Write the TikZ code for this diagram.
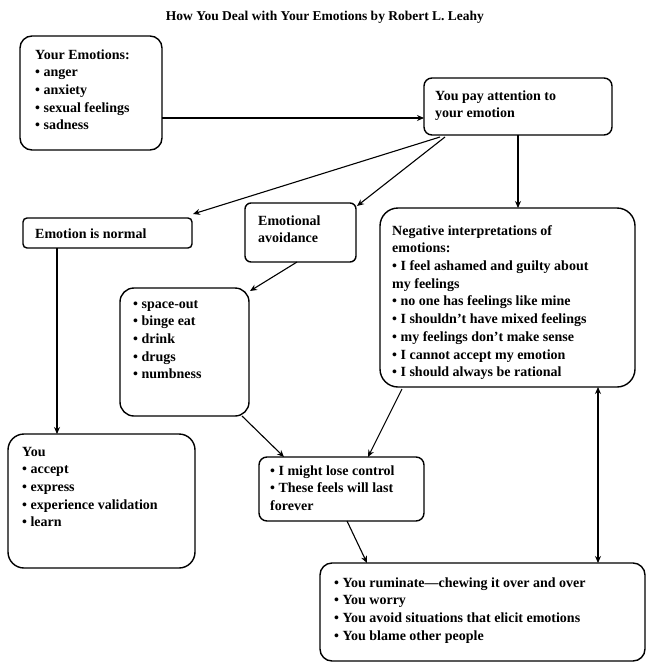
\documentclass[tikz,border=0pt]{standalone}
\usepackage{fontspec}
\setmainfont{Liberation Serif}
\usetikzlibrary{calc,arrows.meta}
\tikzset{
  box/.style={draw, line width=1.4pt, anchor=north west, inner sep=0pt, outer sep=0pt},
  txt/.style={anchor=north west, inner sep=0pt, align=left,
    font=\fontsize{14}{17.7}\selectfont\bfseries},
  arr/.style={line width=1.1pt, -{Stealth[length=7pt,width=6pt]}},
  darr/.style={line width=1.1pt, {Stealth[length=7pt,width=6pt]}-{Stealth[length=7pt,width=6pt]}}
}
\begin{document}
\begin{tikzpicture}[x=1pt,y=-1pt]
\useasboundingbox (0,0) rectangle (650,670);
\node[anchor=center, font=\fontsize{13.5}{16}\selectfont\bfseries] (title) at (325,17) {How You Deal with Your Emotions by Robert L. Leahy};

\node[box, rounded corners=12pt, minimum width=142pt, minimum height=114pt] (b1) at (20,36) {};
\node[box, rounded corners=8pt, minimum width=188pt, minimum height=57pt] (b2) at (424,78) {};
\node[box, rounded corners=4pt, minimum width=169pt, minimum height=30pt] (b3) at (23,218) {};
\node[box, rounded corners=6pt, minimum width=111pt, minimum height=59pt] (b4) at (245,203) {};
\node[box, rounded corners=18pt, minimum width=255pt, minimum height=179pt] (b5) at (380,208) {};
\node[box, rounded corners=14pt, minimum width=129pt, minimum height=128pt] (b6) at (120,288) {};
\node[box, rounded corners=16pt, minimum width=187pt, minimum height=134pt] (b7) at (8,434) {};
\node[box, rounded corners=8pt, minimum width=165pt, minimum height=64pt] (b8) at (259,457) {};
\node[box, rounded corners=12pt, minimum width=325pt, minimum height=98pt] (b9) at (320,563) {};

\node[txt] (t1) at (35,46.6) {\strut Your Emotions:\\• anger\\• anxiety\\• sexual feelings\\• sadness};
\node[txt] (t2) at (435,87.6) {\strut You pay attention to\\your emotion};
\node[txt] (t3) at (35,225.6) {\strut Emotion is normal};
\node[txt] (t4) at (258,212.6) {\strut Emotional\\avoidance};
\node[txt] (t5) at (392,222.6) {\strut Negative interpretations of\\emotions:\\• I feel ashamed and guilty about\\my feelings\\• no one has feelings like mine\\• I shouldn’t have mixed feelings\\• my feelings don’t make sense\\• I cannot accept my emotion\\• I should always be rational};
\node[txt] (t6) at (133,295.6) {\strut • space-out\\• binge eat\\• drink\\• drugs\\• numbness};
\node[txt] (t7) at (22,443.6) {\strut You\\• accept\\• express\\• experience validation\\• learn};
\node[txt] (t8) at (270,462.6) {\strut • I might lose control\\• These feels will last\\forever};
\node[txt] (t9) at (334,574.6) {\strut • You ruminate—chewing it over and over\\• You worry\\• You avoid situations that elicit emotions\\• You blame other people};

\draw[arr] ($(b1.north west)+(142,82)$) -- ($(b2.north west)+(0,40)$);
\draw[arr] ($(b2.north west)+(16,59)$) -- ($(b3.north west)+(170,-4)$);
\draw[arr] ($(b2.north west)+(21,59)$) -- ($(b4.north west)+(112,3)$);
\draw[arr] ($(b2.north west)+(94,57)$) -- ($(b5.north west)+(138,0)$);
\draw[arr] ($(b4.north west)+(52,59)$) -- ($(b6.north west)+(130,3)$);
\draw[arr] ($(b3.north west)+(34,30)$) -- ($(b7.north west)+(49,0)$);
\draw[arr] ($(b6.north west)+(122,128)$) -- ($(b8.north west)+(25,0)$);
\draw[arr] ($(b5.north west)+(22,181)$) -- ($(b8.north west)+(109,0)$);
\draw[arr] ($(b8.north west)+(88,64)$) -- ($(b9.north west)+(47,0)$);
\draw[darr] ($(b5.north west)+(218,179)$) -- ($(b9.north west)+(278,0)$);
\end{tikzpicture}
\end{document}
